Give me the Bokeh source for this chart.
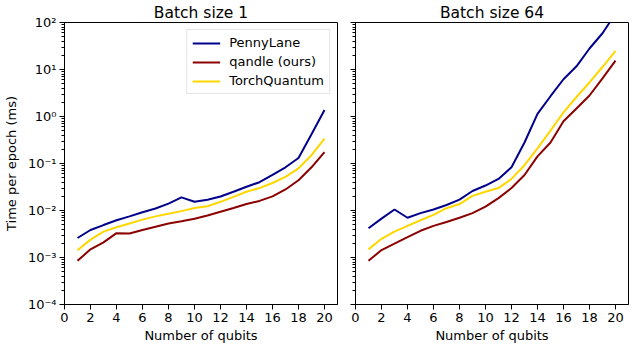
from bokeh.plotting import figure
from bokeh.models import Range1d, FixedTicker, LogTicker, CustomJSTickFormatter, Legend, LegendItem
from bokeh.layouts import row
from bokeh.embed import file_html
from bokeh.resources import INLINE

qubits = list(range(1, 21))
x_ticks = list(range(0, 21, 2))
titles = ["Batch size 1", "Batch size 64"]
series_names = ["PennyLane", "qandle (ours)", "TorchQuantum"]
colors = ["#00008b", "#8b0000", "#ffd700"]

penny_b1 = [2.6e-3, 3.85e-3, 4.9e-3, 6.2e-3, 7.5e-3, 9.2e-3, 1.1e-2, 1.4e-2, 1.9e-2, 1.53e-2,
            1.7e-2, 1.98e-2, 2.5e-2, 3.2e-2, 4.0e-2, 5.7e-2, 8.3e-2, 1.31e-1, 4.2e-1, 1.37]
qandle_b1 = [8.5e-4, 1.49e-3, 2.1e-3, 3.3e-3, 3.25e-3, 3.85e-3, 4.5e-3, 5.3e-3, 5.9e-3, 6.7e-3,
             7.8e-3, 9.4e-3, 1.13e-2, 1.37e-2, 1.6e-2, 2.0e-2, 2.8e-2, 4.4e-2, 8.3e-2, 1.74e-1]
torch_b1 = [1.42e-3, 2.4e-3, 3.56e-3, 4.4e-3, 5.3e-3, 6.4e-3, 7.5e-3, 8.5e-3, 9.7e-3, 1.13e-2,
            1.23e-2, 1.53e-2, 1.95e-2, 2.5e-2, 3.0e-2, 3.85e-2, 5.2e-2, 7.9e-2, 1.5e-1, 3.4e-1]

penny_b64 = [4.2e-3, 6.7e-3, 1.05e-2, 7.0e-3, 8.8e-3, 1.05e-2, 1.31e-2, 1.7e-2, 2.6e-2, 3.4e-2,
             4.7e-2, 8.3e-2, 2.8e-1, 1.14, 2.7, 6.2, 11.7, 28.0, 59.0, 155.0]
qandle_b64 = [8.5e-4, 1.44e-3, 1.98e-3, 2.7e-3, 3.7e-3, 4.7e-3, 5.7e-3, 7.0e-3, 8.8e-3, 1.21e-2,
              1.83e-2, 3.0e-2, 5.7e-2, 1.42e-1, 2.8e-1, 7.9e-1, 1.48, 2.8, 6.5, 15.4]
torch_b64 = [1.49e-3, 2.5e-3, 3.56e-3, 4.7e-3, 6.2e-3, 8.1e-3, 1.12e-2, 1.37e-2, 2.05e-2, 2.5e-2,
             3.0e-2, 4.7e-2, 9.2e-2, 2.1e-1, 5.0e-1, 1.22, 2.6, 5.3, 11.3, 24.8]

FONT = "DejaVu Sans"

sup_code = """
const e = Math.round(Math.log10(tick));
const sup = {"-": "\u207b", "0": "\u2070", "1": "\u00b9", "2": "\u00b2", "3": "\u00b3",
             "4": "\u2074", "5": "\u2075", "6": "\u2076", "7": "\u2077", "8": "\u2078", "9": "\u2079"};
return "10" + String(e).split("").map(c => sup[c]).join("");
"""


def make_fig(title, data, left, show_legend):
    p = figure(
        output_backend="svg", toolbar_location=None, y_axis_type="log",
        x_range=Range1d(0, 21), y_range=Range1d(1e-4, 1e2),
        frame_width=273, frame_height=282,
        min_border_left=56 if left else 9, min_border_right=9 if left else 3,
        min_border_top=0, min_border_bottom=0,
        title=title,
    )
    p.title.align = "center"
    p.title.text_font = FONT
    p.title.text_font_size = "15.5px"
    p.title.text_font_style = "normal"
    p.title.text_color = "black"
    p.title.standoff = 2
    p.grid.visible = False
    p.outline_line_color = "black"
    p.outline_line_width = 1
    p.outline_line_alpha = 1
    p.background_fill_color = "white"
    p.border_fill_color = "white"

    xa = p.xaxis[0]
    xa.ticker = FixedTicker(ticks=x_ticks, minor_ticks=[])
    xa.axis_label = "Number of qubits"
    ya = p.yaxis[0]
    ya.ticker = LogTicker(num_minor_ticks=10)
    if left:
        ya.formatter = CustomJSTickFormatter(code=sup_code)
        ya.axis_label = "Time per epoch (ms)"
    else:
        ya.formatter = CustomJSTickFormatter(code="return '';")
        ya.major_label_standoff = 0
    for ax in (xa, ya):
        ax.axis_line_color = "black"
        ax.major_tick_line_color = "black"
        ax.minor_tick_line_color = "black"
        ax.major_tick_in = 0
        ax.major_tick_out = 5
        ax.minor_tick_in = 0
        ax.minor_tick_out = 3
        ax.major_label_text_font = FONT
        ax.major_label_text_font_size = "13px"
        ax.major_label_text_color = "black"
        ax.axis_label_text_font = FONT
        ax.axis_label_text_font_size = "13px"
        ax.axis_label_text_font_style = "normal"
        ax.axis_label_text_color = "black"
    xa.major_label_standoff = 3
    xa.axis_label_standoff = 3
    ya.axis_label_standoff = 6
    if left:
        ya.major_label_standoff = 3

    renderers = []
    for ys, c in zip(data, colors):
        r = p.line(qubits, ys, line_color=c, line_width=2)
        renderers.append(r)

    if show_legend:
        legend = Legend(
            items=[LegendItem(label=n, renderers=[r]) for n, r in zip(series_names, renderers)],
            location="top_right",
        )
        legend.label_text_font = FONT
        legend.label_text_font_size = "13px"
        legend.label_text_color = "black"
        legend.glyph_width = 28
        legend.glyph_height = 14
        legend.label_height = 14
        legend.label_standoff = 9
        legend.spacing = 4
        legend.padding = 5
        legend.margin = 7
        legend.border_line_color = "#cccccc"
        legend.border_line_width = 1
        legend.background_fill_alpha = 0.8
        p.add_layout(legend, "center")
    return p


p1 = make_fig(titles[0], [penny_b1, qandle_b1, torch_b1], True, True)
p2 = make_fig(titles[1], [penny_b64, qandle_b64, torch_b64], False, False)

p = row(p1, p2)
open("out.html", "w").write(file_html(p, INLINE))
